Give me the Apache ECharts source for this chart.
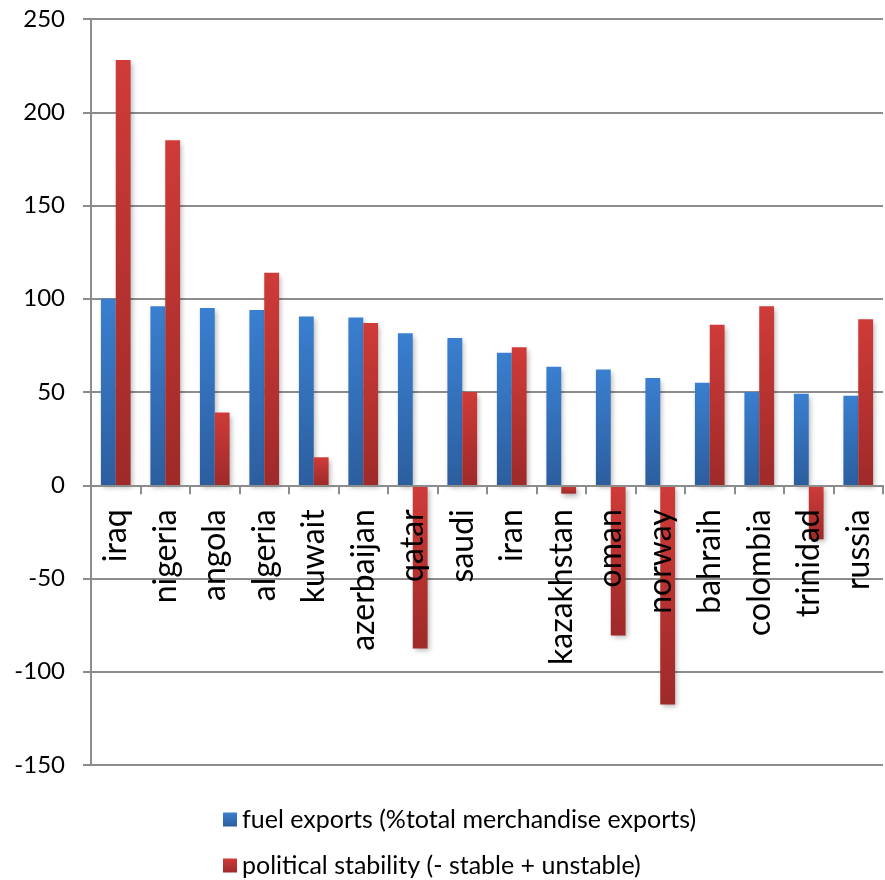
<!DOCTYPE html>
<html>
<head>
<meta charset="utf-8">
<script src="https://cdn.jsdelivr.net/npm/echarts@6/dist/echarts.min.js"></script>
<style>
  html, body { margin: 0; padding: 0; background: #ffffff; }
  #chart { width: 885px; height: 880px; }
</style>
</head>
<body>
<div id="chart"></div>
<script>
// Countries on the category axis
const countries = ['iraq', 'nigeria', 'angola', 'algeria', 'kuwait', 'azerbaijan', 'qatar', 'saudi',
  'iran', 'kazakhstan', 'oman', 'norway', 'bahraih', 'colombia', 'trinidad', 'russia'];

// Fuel exports as % of total merchandise exports
const fuelExports = [100, 96, 95, 94, 90.5, 90, 81.5, 79, 71, 63.5, 62, 57.5, 55, 50, 49, 48];

// Political stability score (negative = stable, positive = unstable)
const politicalStability = [228, 185, 39, 114, 15, 87, -87.5, 50, 74, -4.5, -80.5, -117.5, 86, 96, -29, 89];

const seriesNames = ['fuel exports (%total merchandise exports)', 'political stability (- stable + unstable)'];

// Value axis ticks
const yMin = -150, yMax = 250, yStep = 50;

const FONT = 'Lato, "Open Sans", sans-serif';
const GRID_COLOR = '#8c8c8c';

const GRID = { left: 91, right: 2, top: 19, bottom: 115 };
const CHART_H = 880;
// Category names sit just under the zero line rather than under the plot bottom
const plotH = CHART_H - GRID.top - GRID.bottom;
const zeroFromBottom = (0 - yMin) / (yMax - yMin) * plotH;
const labelGap = 24;

function barGradient(top, bottom) {
  return new echarts.graphic.LinearGradient(0, 0, 0, 1, [
    { offset: 0, color: top },
    { offset: 1, color: bottom }
  ]);
}

const chart = echarts.init(document.getElementById('chart'), null, { renderer: 'canvas' });

chart.setOption({
  backgroundColor: '#ffffff',
  animation: false,
  grid: Object.assign({ containLabel: false, outerBoundsMode: 'none' }, GRID),
  legend: {
    orient: 'vertical',
    left: 223,
    top: 807,
    height: 90,
    padding: 0,
    itemWidth: 14,
    itemHeight: 14,
    itemGap: 21,
    icon: 'rect',
    textStyle: { fontFamily: FONT, fontSize: 25, color: '#000000' },
    data: [
      { name: seriesNames[0], itemStyle: { color: barGradient('#3a7fd0', '#2c5e9e') } },
      { name: seriesNames[1], itemStyle: { color: barGradient('#cf3b38', '#9e2a29') } }
    ]
  },
  xAxis: {
    type: 'category',
    data: countries,
    z: 5,
    axisLine: { onZero: true, lineStyle: { color: GRID_COLOR, width: 2 } },
    axisTick: { show: true, length: 9, alignWithLabel: false, lineStyle: { color: GRID_COLOR, width: 2 } },
    axisLabel: {
      rotate: 90,
      interval: 0,
      hideOverlap: false,
      margin: labelGap - zeroFromBottom,
      fontFamily: FONT,
      fontSize: 32,
      color: '#000000'
    },
    splitLine: { show: false }
  },
  yAxis: {
    type: 'value',
    min: yMin,
    max: yMax,
    interval: yStep,
    axisLine: { show: true, lineStyle: { color: GRID_COLOR, width: 2 } },
    axisTick: { show: true, length: 8, lineStyle: { color: GRID_COLOR, width: 2 } },
    axisLabel: { margin: 26, fontFamily: FONT, fontSize: 24, color: '#000000' },
    splitLine: { show: true, lineStyle: { color: GRID_COLOR, width: 2 } }
  },
  series: [
    {
      name: seriesNames[0],
      type: 'bar',
      data: fuelExports,
      barGap: '0%',
      barCategoryGap: '40%',
      itemStyle: {
        color: barGradient('#3a7fd0', '#2c5e9e'),
        shadowColor: 'rgba(0,0,0,0.28)',
        shadowBlur: 5,
        shadowOffsetX: 2,
        shadowOffsetY: 3
      }
    },
    {
      name: seriesNames[1],
      type: 'bar',
      data: politicalStability,
      barGap: '0%',
      barCategoryGap: '40%',
      itemStyle: {
        color: barGradient('#cf3b38', '#9e2a29'),
        shadowColor: 'rgba(0,0,0,0.28)',
        shadowBlur: 5,
        shadowOffsetX: 2,
        shadowOffsetY: 3
      }
    }
  ]
});
</script>
</body>
</html>
